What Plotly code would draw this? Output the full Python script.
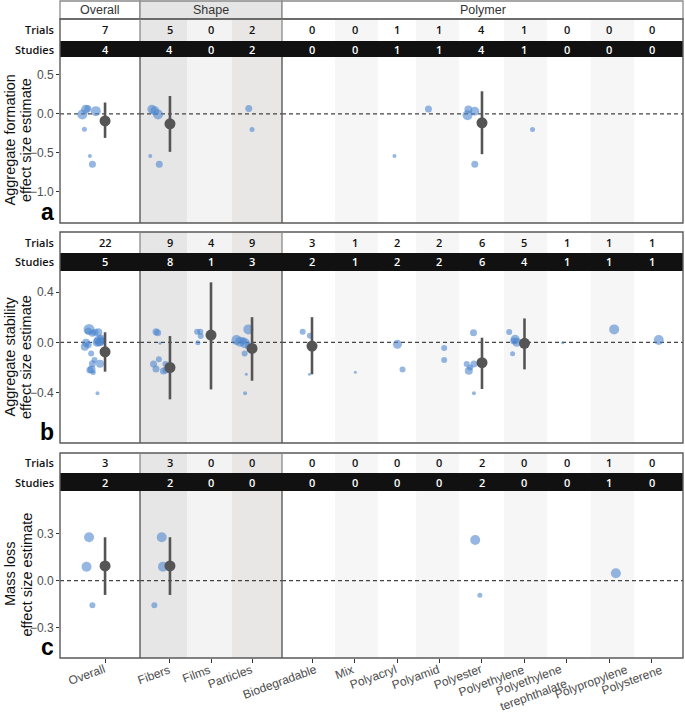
import plotly.graph_objects as go

W, H = 685, 713

# ---------------- data ----------------
overall_cats = ["Overall"]
shape_cats = ["Fibers", "Films", "Particles"]
PET = "Polyethylene<br>terephthalate"
polymer_cats = ["Biodegradable", "Mix", "Polyacryl", "Polyamid", "Polyester",
                "Polyethylene", PET, "Polypropylene", "Polysterene"]
facet_labels = ["Overall", "Shape", "Polymer"]
panel_letters = ["a", "b", "c"]
y_title_line1 = ["Aggregate formation", "Aggregate stability", "Mass loss"]
y_title_line2 = ["effect size estimate", "effect size estimate", "effect size estimate"]

# header counts, in order Overall, Shape(3), Polymer(9)
trials_a = [7, 5, 0, 2, 0, 0, 1, 1, 4, 1, 0, 0, 0]
studies_a = [4, 4, 0, 2, 0, 0, 1, 1, 4, 1, 0, 0, 0]
trials_b = [22, 9, 4, 9, 3, 1, 2, 2, 6, 5, 1, 1, 1]
studies_b = [5, 8, 1, 3, 2, 1, 2, 2, 6, 4, 1, 1, 1]
trials_c = [3, 3, 0, 0, 0, 0, 0, 0, 2, 0, 0, 1, 0]
studies_c = [2, 2, 0, 0, 0, 0, 0, 0, 2, 0, 0, 1, 0]

# panel a: aggregate formation, individual trials
a_cat = ["Overall"] * 7 + ["Fibers"] * 5 + ["Particles"] * 2 + ["Polyacryl", "Polyamid"] + \
        ["Polyester"] * 4 + ["Polyethylene"]
a_val = [-0.008, 0.06, 0.07, 0.035, -0.196, -0.54, -0.645,
         0.06, 0.04, -0.008, -0.54, -0.645,
         0.07, -0.2,
         -0.54, 0.064,
         0.056, 0.035, -0.017, -0.645,
         -0.2]
a_weight = [10, 9, 7, 10, 5, 4, 7,
            9, 9, 10, 4, 7,
            7, 5,
            4, 7,
            8, 9, 10, 7,
            5]
a_jitter = [-0.54, -0.46, -0.41, -0.22, -0.49, -0.36, -0.30,
            -0.44, -0.37, -0.29, -0.48, -0.26,
            -0.08, 0.0,
            -0.06, -0.26,
            -0.32, -0.17, -0.34, -0.17,
            0.19]

# panel b: aggregate stability
b_cat = ["Overall"] * 22 + ["Fibers"] * 9 + ["Films"] * 4 + ["Particles"] * 9 + \
        ["Biodegradable"] * 3 + ["Mix"] + ["Polyacryl"] * 2 + ["Polyamid"] * 2 + \
        ["Polyester"] * 6 + ["Polyethylene"] * 5 + [PET, "Polypropylene", "Polysterene"]
b_val = [0.103, 0.072, 0.08, 0.013, 0.03, -0.003, -0.035, -0.02, -0.088, -0.14, -0.17,
         -0.17, -0.215, -0.24, -0.405, 0.08, 0.0, 0.005, -0.22, 0.01, 0.09, -0.003,
         0.084, 0.076, -0.008, -0.135, -0.172, -0.212, -0.172, -0.22, -0.228,
         0.084, 0.084, 0.05, -0.003,
         0.103, 0.018, 0.005, -0.008, 0.012, -0.03, -0.088, -0.254, -0.405,
         0.084, 0.053, -0.254,
         -0.238,
         -0.016, -0.215,
         -0.045, -0.14,
         0.076, -0.172, -0.172, -0.2, -0.225, -0.405,
         0.082, 0.025, 0.0, -0.09, 0.01,
         -0.003, 0.103, 0.018]
b_weight = [11, 7, 8, 11, 8, 8, 8, 7, 6, 6, 7, 8, 8, 5, 4, 7, 9, 9, 7, 7, 7, 3,
            7, 7, 3, 6, 7, 7, 6, 7, 7,
            6, 6, 6, 5,
            10, 10, 10, 10, 7, 7, 6, 3, 4,
            6, 6, 3,
            3,
            9, 6,
            6, 6,
            7, 6, 7, 6, 8, 4,
            6, 9, 9, 5, 7,
            3, 10, 10]
b_jitter = [-0.38, -0.30, -0.16, -0.14, -0.10, -0.45, -0.48, -0.40, -0.33, -0.25, -0.30,
            -0.12, -0.32, -0.28, -0.18, -0.24, -0.19, -0.12, -0.36, -0.07, -0.40, -0.20,
            -0.34, -0.30, -0.24, -0.27, -0.40, -0.34, -0.11, -0.10, -0.16,
            -0.34, -0.26, -0.25, -0.32,
            -0.09, -0.38, -0.29, -0.17, -0.21, -0.09, -0.18, -0.14, -0.17,
            -0.22, -0.05, -0.06,
            0.02,
            0.01, 0.13,
            0.11, 0.11,
            -0.20, -0.36, -0.19, -0.28, -0.31, -0.19,
            -0.36, -0.22, -0.18, -0.28, -0.25,
            -0.10, 0.11, 0.16]

# panel c: mass loss
c_cat = ["Overall"] * 3 + ["Fibers"] * 3 + ["Polyester"] * 2 + ["Polypropylene"]
c_val = [0.277, 0.089, -0.157, 0.277, 0.089, -0.157, 0.26, -0.093, 0.047]
c_weight = [10, 10, 6, 10, 10, 6, 10, 5, 10]
c_jitter = [-0.38, -0.44, -0.30, -0.20, -0.17, -0.38, -0.16, -0.05, 0.15]

# model estimates with confidence intervals
est_a_cat = ["Overall", "Fibers", "Polyester"]
est_a_val = [-0.09, -0.128, -0.115]
est_a_lo = [-0.308, -0.487, -0.517]
est_a_hi = [0.146, 0.23, 0.29]

est_b_cat = ["Overall", "Fibers", "Films", "Particles", "Biodegradable", "Polyester", "Polyethylene"]
est_b_val = [-0.075, -0.2, 0.058, -0.048, -0.03, -0.162, -0.008]
est_b_lo = [-0.233, -0.453, -0.374, -0.305, -0.254, -0.371, -0.215]
est_b_hi = [0.08, 0.05, 0.477, 0.2, 0.2, 0.037, 0.19]

est_c_cat = ["Overall", "Fibers"]
est_c_val = [0.094, 0.094]
est_c_lo = [-0.091, -0.091]
est_c_hi = [0.277, 0.277]

# ---------------- layout geometry (pixels) ----------------
cols = [overall_cats, shape_cats, polymer_cats]
col_offset = [0, 1, 4]
col_px = [(60, 140), (140, 282), (282, 683)]
col_range = [[-1.07, 0.83], [-0.73, 2.73], [-0.706, 8.73]]
row_plot_px = [(57, 223), (271, 443), (491, 658)]
row_trials_px = [(19, 41), (232, 253), (453, 473)]
row_studies_px = [(41, 57), (253, 271), (473, 491)]
strip_px = (1, 19)
y_ranges = [[-1.40, 0.73], [-0.80, 0.567], [-0.493, 0.572]]
y_tickvals = [[-1.0, -0.5, 0.0, 0.5], [-0.4, 0.0, 0.4], [-0.3, 0.0, 0.3]]
label_nudge = {"Biodegradable": 5, "Polypropylene": 18, "Polysterene": 11}
band_sets = [
    [],
    [(-0.73, 0.42, "#e6e6e6"), (0.42, 1.51, "#f3f3f3"), (1.51, 2.73, "#e9e6e6")],
    [(0.54, 1.55, "#f6f6f6"), (2.45, 3.46, "#f6f6f6"), (4.52, 5.53, "#f6f6f6"),
     (6.56, 7.58, "#f6f6f6")],
]

POINT = "rgba(78,134,206,0.85)"
EST = "#555555"
BORDER = "#5a5a5a"
LIGHTB = "#8a8a8a"
TXT_FONT = "Liberation Sans, Arial, sans-serif"
HDR_FONT = "Open Sans, Noto Sans, sans-serif"


def fx(p):
    return p / W


def fy(p):
    return 1 - p / H


panels = [
    (a_cat, a_val, a_weight, a_jitter, est_a_cat, est_a_val, est_a_lo, est_a_hi, trials_a, studies_a),
    (b_cat, b_val, b_weight, b_jitter, est_b_cat, est_b_val, est_b_lo, est_b_hi, trials_b, studies_b),
    (c_cat, c_val, c_weight, c_jitter, est_c_cat, est_c_val, est_c_lo, est_c_hi, trials_c, studies_c),
]

fig = go.Figure()
layout = {}
shapes = []
annotations = []

for r, (pc, pv, pw, pj, ec, ev, elo, ehi, tr, st) in enumerate(panels):
    ptop, pbot = row_plot_px[r]
    ttop, tbot = row_trials_px[r]
    stop, sbot = row_studies_px[r]
    for c in range(3):
        k = r * 3 + c + 1
        xn = "x" if k == 1 else f"x{k}"
        yn = "y" if k == 1 else f"y{k}"
        xk = "xaxis" if k == 1 else f"xaxis{k}"
        yk = "yaxis" if k == 1 else f"yaxis{k}"
        cats = cols[c]
        x0p, x1p = col_px[c]
        xa = dict(domain=[fx(x0p), fx(x1p)], range=col_range[c], anchor=yn, automargin=False,
                  tickvals=list(range(len(cats))), ticktext=cats, showticklabels=False,
                  showgrid=False, zeroline=False, showline=False, fixedrange=True)
        if r == 2:
            xa.update(ticks="outside", ticklen=4, tickwidth=1, tickcolor="#333")
            # category labels, placed at the axis positions
            for i, cat in enumerate(cats):
                annotations.append(dict(x=i, xref=xn, y=fy(pbot + 3), yref="paper",
                                        text=cat, showarrow=False, textangle=-20,
                                        xanchor="right", yanchor="top", align="right",
                                        borderpad=0, xshift=3 + label_nudge.get(cat, 0),
                                        font=dict(family=TXT_FONT, size=12, color="#4d4d4d")))
        else:
            xa.update(ticks="")
        ya = dict(domain=[fy(pbot), fy(ptop)], range=y_ranges[r], anchor=xn, automargin=False,
                  showgrid=False, zeroline=False, showline=False, fixedrange=True)
        if c == 0:
            ya.update(tickvals=y_tickvals[r],
                      ticktext=[f"{v:.1f}".replace("-", "\u2212") for v in y_tickvals[r]],
                      ticks="outside", ticklen=3, tickwidth=1, tickcolor="#333",
                      tickfont=dict(family=TXT_FONT, size=12, color="#4d4d4d"))
        else:
            ya.update(showticklabels=False, ticks="",
                      matches="y" if r == 0 else f"y{r * 3 + 1}")
        layout[xk] = xa
        layout[yk] = ya

        # background bands (plot area + trials row)
        for b0, b1, col in band_sets[c]:
            shapes.append(dict(type="rect", xref=xn, yref="paper", x0=b0, x1=b1,
                               y0=fy(pbot), y1=fy(ttop), fillcolor=col, line=dict(width=0),
                               layer="below"))
        # zero reference line
        shapes.append(dict(type="line", xref=f"{xn} domain", yref=yn, x0=0, x1=1, y0=0, y1=0,
                           line=dict(color="#444", width=1.2, dash="4px,3px"), layer="below"))

        # individual trials
        idx = [i for i, cc in enumerate(pc) if cc in cats]
        if idx:
            fig.add_trace(go.Scatter(
                x=[cats.index(pc[i]) + pj[i] for i in idx], y=[pv[i] for i in idx],
                mode="markers", xaxis=xn, yaxis=yn, showlegend=False, hoverinfo="skip",
                marker=dict(size=[pw[i] for i in idx], color=POINT, line=dict(width=0))))
        # estimates
        eidx = [i for i, cc in enumerate(ec) if cc in cats]
        if eidx:
            fig.add_trace(go.Scatter(
                x=[cats.index(ec[i]) for i in eidx], y=[ev[i] for i in eidx],
                mode="markers", xaxis=xn, yaxis=yn, showlegend=False, hoverinfo="skip",
                marker=dict(size=11, color=EST),
                error_y=dict(type="data", symmetric=False,
                             array=[ehi[i] - ev[i] for i in eidx],
                             arrayminus=[ev[i] - elo[i] for i in eidx],
                             width=0, thickness=2.6, color=EST)))

        # header numbers
        for i, cat in enumerate(cats):
            annotations.append(dict(x=i, xref=xn, y=fy((ttop + tbot) / 2), yref="paper",
                                    text=str(tr[col_offset[c] + i]), showarrow=False,
                                    xanchor="center", yanchor="middle",
                                    font=dict(family=HDR_FONT, size=11, color="#111", weight=600)))
            annotations.append(dict(x=i, xref=xn, y=fy((stop + sbot) / 2), yref="paper",
                                    text=str(st[col_offset[c] + i]), showarrow=False,
                                    xanchor="center", yanchor="middle",
                                    font=dict(family=HDR_FONT, size=11, color="#ffffff", weight=600)))

    # studies black bar
    shapes.append(dict(type="rect", xref="paper", yref="paper", x0=fx(60), x1=fx(683),
                       y0=fy(sbot), y1=fy(stop), fillcolor="#111111", line=dict(width=0),
                       layer="below"))
    # borders
    shapes.append(dict(type="rect", xref="paper", yref="paper", x0=fx(60), x1=fx(683),
                       y0=fy(pbot), y1=fy(ttop), line=dict(color=BORDER, width=1.4),
                       layer="above"))
    for xp in (140, 282):
        shapes.append(dict(type="line", xref="paper", yref="paper", x0=fx(xp), x1=fx(xp),
                           y0=fy(stop), y1=fy(ttop), line=dict(color=LIGHTB, width=1.3),
                           layer="above"))
        shapes.append(dict(type="line", xref="paper", yref="paper", x0=fx(xp), x1=fx(xp),
                           y0=fy(pbot), y1=fy(sbot), line=dict(color=BORDER, width=1.4),
                           layer="above"))
    # row labels
    annotations.append(dict(x=fx(56), y=fy((ttop + tbot) / 2), xref="paper", yref="paper",
                            text="Trials", showarrow=False, xanchor="right", yanchor="middle",
                            font=dict(family=HDR_FONT, size=11, color="#111", weight=600)))
    annotations.append(dict(x=fx(56), y=fy((stop + sbot) / 2), xref="paper", yref="paper",
                            text="Studies", showarrow=False, xanchor="right", yanchor="middle",
                            font=dict(family=HDR_FONT, size=11, color="#111", weight=600)))
    # y title, two lines
    for line_text, xl in ((y_title_line1[r], 0.5), (y_title_line2[r], 17)):
        annotations.append(dict(x=fx(xl), y=fy((ptop + pbot) / 2), xref="paper", yref="paper",
                                text=line_text, showarrow=False, textangle=-90, borderpad=0,
                                xanchor="left", yanchor="middle",
                                font=dict(family=TXT_FONT, size=14.5, color="#111")))
    # panel letter
    annotations.append(dict(x=fx(47), y=fy(pbot + 4), xref="paper", yref="paper",
                            text="<b>" + panel_letters[r] + "</b>", showarrow=False,
                            xanchor="center", yanchor="bottom",
                            font=dict(family=TXT_FONT, size=23, color="#000")))

# facet strip on top
strip_fill = ["#ffffff", "#e5e5e5", "#ffffff"]
for c in range(3):
    x0p, x1p = col_px[c]
    shapes.append(dict(type="rect", xref="paper", yref="paper", x0=fx(x0p), x1=fx(x1p),
                       y0=fy(strip_px[1]), y1=fy(strip_px[0]), fillcolor=strip_fill[c],
                       line=dict(color=LIGHTB, width=1.3), layer="below"))
    annotations.append(dict(x=fx((x0p + x1p) / 2), y=fy((strip_px[0] + strip_px[1]) / 2),
                            xref="paper", yref="paper", text=facet_labels[c], showarrow=False,
                            xanchor="center", yanchor="middle",
                            font=dict(family=TXT_FONT, size=12.5, color="#333")))

fig.update_layout(
    width=W, height=H, autosize=False,
    margin=dict(l=0, r=0, t=0, b=0, autoexpand=False),
    paper_bgcolor="#ffffff", plot_bgcolor="rgba(0,0,0,0)",
    showlegend=False, shapes=shapes, annotations=annotations,
    **layout,
)

fig.write_html("out.html", config={"displayModeBar": False},
               post_script="document.body.style.margin='0px';")
